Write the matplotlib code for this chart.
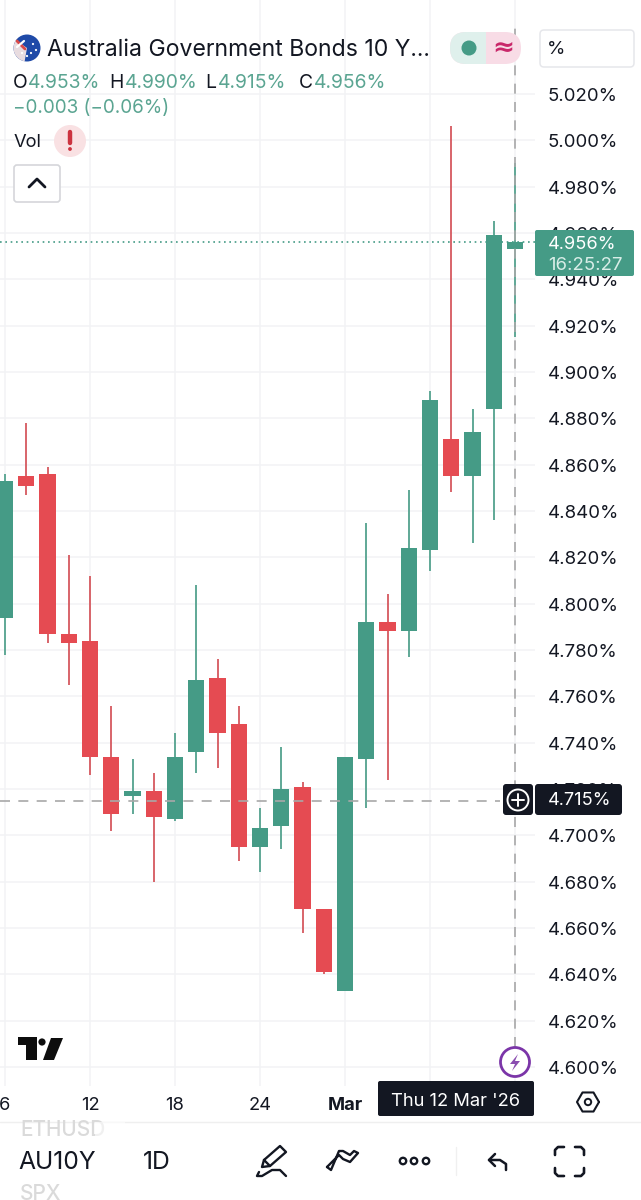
import matplotlib
matplotlib.use('Agg')
import matplotlib.pyplot as plt
from matplotlib.patches import FancyBboxPatch, Circle, Polygon, Rectangle, Wedge
from matplotlib.transforms import ScaledTranslation
import numpy as np

plt.rcParams['font.family'] = ['Inter', 'DejaVu Sans']

# ---------- data ----------
opens  = [4.794,4.855,4.856,4.787,4.784,4.734,4.717,4.719,4.707,4.736,4.768,4.748,4.695,4.704,4.721,4.668,4.633,4.733,4.792,4.788,4.823,4.871,4.855,4.884,4.953]
closes = [4.853,4.851,4.787,4.783,4.734,4.709,4.719,4.708,4.734,4.767,4.744,4.695,4.703,4.720,4.668,4.641,4.734,4.792,4.788,4.824,4.888,4.855,4.874,4.959,4.956]
highs  = [4.856,4.878,4.859,4.821,4.812,4.756,4.733,4.727,4.744,4.808,4.776,4.756,4.712,4.738,4.723,4.668,4.734,4.835,4.804,4.849,4.892,5.006,4.884,4.965,4.990]
lows   = [4.778,4.847,4.783,4.765,4.726,4.702,4.709,4.680,4.706,4.727,4.729,4.689,4.684,4.694,4.658,4.640,4.633,4.712,4.724,4.777,4.814,4.848,4.826,4.836,4.915]
price_ticks = [4.60,4.62,4.64,4.66,4.68,4.70,4.72,4.74,4.76,4.78,4.80,4.82,4.84,4.86,4.88,4.90,4.92,4.94,4.96,4.98,5.00,5.02]
date_pos = [0,4,8,12,16,20,24]
date_labels = ['6','12','18','24','Mar','','']
last_price = 4.956
cross_price = 4.715

GREEN = '#459B86'; GREEN_W = '#5FA896'
RED = '#E54B52'; RED_W = '#D8646A'
TXT = '#131722'; TEXTG = '#5BA592'; GRID = '#F2F3F5'

# ---------- chart axes ----------
W, H = 641, 1200
CHART_R, CHART_B = 535, 1086
PX_PER_UNIT = (1067-94)/0.42
PX_PER_BAR = 21.25
fig = plt.figure(figsize=(W/100, H/100), dpi=100, facecolor='white')
ax = fig.add_axes([0, 1-CHART_B/H, CHART_R/W, CHART_B/H])
ax.set_xlim(-5/PX_PER_BAR, (CHART_R-5)/PX_PER_BAR)
ax.set_ylim(5.02-(CHART_B-94)/PX_PER_UNIT, 5.02+94/PX_PER_UNIT)
for s in ax.spines.values():
    s.set_visible(False)

ax.set_yticks(price_ticks)
ax.set_yticklabels([f'{p:.3f}%' for p in price_ticks])
ax.yaxis.tick_right()
ax.tick_params(axis='y', length=0, pad=9, labelsize=13.4, labelcolor=TXT)
for lab in ax.get_yticklabels():
    lab.set_transform(lab.get_transform() + ScaledTranslation(0, -0.5/100, fig.dpi_scale_trans))
ax.set_xticks(date_pos)
ax.set_xticklabels(date_labels)
ax.tick_params(axis='x', length=0, pad=8, labelsize=13.2, labelcolor=TXT)
for lab in ax.get_xticklabels():
    if lab.get_text() == 'Mar':
        lab.set_fontweight('bold')
ax.grid(True, color=GRID, lw=1.1, zorder=0)
ax.set_axisbelow(True)

for i, (o, c, h, l) in enumerate(zip(opens, closes, highs, lows)):
    up = c >= o
    ax.vlines(i, l, h, color=GREEN_W if up else RED_W, lw=1.4, zorder=3)
    ax.bar(i, abs(c-o), bottom=min(o, c), width=0.76, color=GREEN if up else RED, zorder=4)

ax.axhline(last_price, color=GREEN, lw=1.2, ls=(0, (1, 2.2)), zorder=5)
ax.axhline(cross_price, xmax=500/CHART_R, color='#A8A8A8', lw=1.2, ls=(0, (6, 5)), zorder=5)
ax.axvline(len(opens)-1, ymin=(CHART_B-1047)/CHART_B, ymax=(CHART_B-22)/CHART_B,
           color='#A8A8A8', lw=1.2, ls=(0, (6, 5)), zorder=5)

# ---------- interface overlay, in pixel coordinates ----------
ui = fig.add_axes([0, 0, 1, 1], facecolor='none')
ui.set_xlim(0, W); ui.set_ylim(H, 0); ui.axis('off')

def box(x0, y0, x1, y1, r=3, fc='white', ec='none', lw=1, z=6):
    ui.add_patch(FancyBboxPatch((x0+r, y0+r), x1-x0-2*r, y1-y0-2*r,
                 boxstyle=f'round,pad={r},rounding_size={r}', fc=fc, ec=ec, lw=lw, zorder=z))

def t(x, y, s, size=13.4, color=TXT, ha='left', **kw):
    ui.text(x, y+1.5, s, fontsize=size, color=color, ha=ha, va='center', zorder=kw.pop('zorder', 8), **kw)

def pl(xs, ys, color=TXT, lw=1.8, z=8):
    ui.plot(xs, ys, color=color, lw=lw, solid_capstyle='round', solid_joinstyle='round', zorder=z)

# title row
ui.add_patch(Circle((27, 48), 13.5, fc='#1F4AA8', zorder=7))
ui.add_patch(Wedge((27, 48), 13.5, 100, 215, fc='#E8DCE0', zorder=7))
pl([17, 25], [41, 49], '#D94A4A', 2, 8)
pl([24, 17], [41, 47], 'white', 1.6, 8)
for px, py in [(33, 44), (36, 50), (31, 53), (27, 56), (22, 53)]:
    ui.add_patch(Circle((px, py), 1.1, fc='white', zorder=8))
t(47, 48, 'Australia Government Bonds 10 Y...', 16.6, TXT)

box(450, 32, 521, 64, r=16, fc='#F8DCE6', z=6)
box(450, 32, 500, 64, r=16, fc='#DFF0EC', z=6.1)
ui.add_patch(Rectangle((486, 32), 20, 32, fc='#F8DCE6', zorder=6.2))
ui.add_patch(Circle((469, 48), 7.5, fc=GREEN, zorder=7))
t(503, 46, '≈', 19, '#C9286A', ha='center', fontweight='bold', family=['DejaVu Sans'])
box(540, 30, 634, 67, r=4, fc='white', ec='#E6E7EB', lw=1.1)
t(547, 48, '%', 13.4, TXT)

# OHLC row
for x, s, col in [(13, 'O', TXT), (28, '4.953%', TEXTG), (109, 'H', TXT), (125, '4.990%', TEXTG),
                  (205, 'L', TXT), (218, '4.915%', TEXTG), (299, 'C', TXT), (314, '4.956%', TEXTG)]:
    t(x, 82, s, 13.9, col)
t(13, 107, '−0.003 (−0.06%)', 13.6, TEXTG)
t(14, 141, 'Vol', 13.2, TXT)
ui.add_patch(Circle((70, 141), 16, fc='#F9E1E3', zorder=7))
pl([70, 70], [132, 143], '#CC3340', 3.2)
ui.add_patch(Circle((70, 149), 1.9, fc='#CC3340', zorder=8))
box(14, 165, 60, 202, r=3, fc='white', ec='#D5D6DA', lw=1.2)
pl([29, 37, 45], [187, 179, 187], TXT, 2)

# last price tag
box(535, 230, 634, 276, r=2, fc=GREEN, z=7)
t(548, 243, '4.956%', 13.1, 'white')
t(548, 264, '16:25:27', 13.4, '#D8EDE7')

# crosshair tags
box(503, 784, 533, 815, r=3, fc='#131722', z=7)
box(535, 784, 622, 815, r=3, fc='#131722', z=7)
ui.add_patch(Circle((518, 800), 10.5, fc='none', ec='white', lw=1.4, zorder=8))
pl([512, 524], [800, 800], 'white', 1.4)
pl([518, 518], [794, 806], 'white', 1.4)
t(548, 799, '4.715%', 13.1, 'white')

# logo
ui.add_patch(Polygon([(18, 1037), (37, 1037), (37, 1060), (26, 1060), (26, 1045), (18, 1045)], fc='#0D0D0D', zorder=8))
ui.add_patch(Circle((42, 1042), 3.6, fc='#0D0D0D', zorder=8))
ui.add_patch(Polygon([(51, 1038), (63, 1038), (54, 1060), (43, 1060)], fc='#0D0D0D', zorder=8))

# replay marker
ui.add_patch(Circle((515, 1062), 14.5, fc='white', ec='#7B35A8', lw=2, zorder=8))
ui.add_patch(Polygon([(518, 1054), (510, 1064), (515, 1064), (512, 1071), (520, 1061), (515, 1061)], fc='#8A4DB0', zorder=9))

# date tag and settings
box(378, 1081, 534, 1116, r=2, fc='#131722', z=7)
t(456, 1100, "Thu 12 Mar '26", 13.2, 'white', ha='center')
ang = np.deg2rad(np.arange(0, 361, 60))
pl(588+11*np.cos(ang), 1102+11*np.sin(ang), TXT, 1.5)
ui.add_patch(Circle((588, 1102), 3.2, fc='none', ec=TXT, lw=1.4, zorder=8))

# bottom toolbar
pl([0, 641], [1122, 1122], '#EFEFEF', 1, 6)
t(20, 1129, 'ETHUSD', 15, '#DADADA', fontweight='medium')
ui.add_patch(Rectangle((95, 1122), 30, 18, fc='white', alpha=0.6, zorder=9))
t(18, 1161, 'AU10Y', 17.8, TXT)
t(143, 1161, '1D', 17.8, TXT)
t(20, 1193, 'SPX', 15, '#DADADA', fontweight='medium')
# pencil
pl([264, 280, 286, 270, 264], [1160, 1146, 1152, 1166, 1160], TXT, 1.7)
pl([264, 262, 270], [1160, 1167, 1166], TXT, 1.7)
pl([259, 257, 262, 272, 280, 286], [1172, 1176, 1176, 1170, 1170, 1176], TXT, 1.7)
# line tools
pl([327, 339, 343, 350, 358, 354, 350, 343, 339, 331, 327], [1167, 1155, 1159, 1162, 1153, 1151, 1155, 1151, 1151, 1170, 1167], TXT, 1.7)
# more
for cx in (403, 414, 426):
    ui.add_patch(Circle((cx, 1161), 3.2, fc='none', ec=TXT, lw=1.7, zorder=8))
# undo
pl([495, 489, 495], [1154, 1160, 1166], TXT, 1.8)
pl([489, 500, 506, 506], [1160, 1160, 1164, 1170], TXT, 1.8)
# fullscreen
pl([555, 555, 558, 564], [1155, 1150, 1147, 1147], TXT, 1.9)
pl([575, 581, 584, 584], [1147, 1147, 1150, 1155], TXT, 1.9)
pl([555, 555, 558, 564], [1168, 1173, 1176, 1176], TXT, 1.9)
pl([575, 581, 584, 584], [1176, 1176, 1173, 1168], TXT, 1.9)
pl([456, 456], [1147, 1175], '#F0F0F0', 1, 6)

fig.savefig('out.png', dpi=100)
